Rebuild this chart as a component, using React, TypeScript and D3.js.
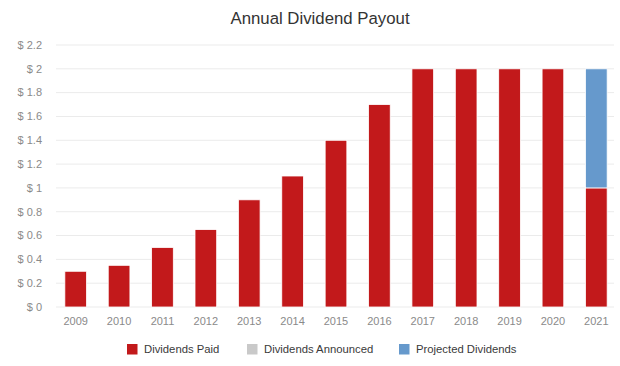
import { useEffect, useRef } from "react";
import * as d3 from "d3";

const years = ["2009", "2010", "2011", "2012", "2013", "2014", "2015", "2016", "2017", "2018", "2019", "2020", "2021"];
const paid = [0.3, 0.35, 0.5, 0.65, 0.9, 1.1, 1.4, 1.7, 2.0, 2.0, 2.0, 2.0, 1.0];
const announced = [0, 0, 0, 0, 0, 0, 0, 0, 0, 0, 0, 0, 0];
const projected = [0, 0, 0, 0, 0, 0, 0, 0, 0, 0, 0, 0, 1.0];
const yTicks = [0, 0.2, 0.4, 0.6, 0.8, 1, 1.2, 1.4, 1.6, 1.8, 2, 2.2];
const seriesNames = ["Dividends Paid", "Dividends Announced", "Projected Dividends"];
const colors = ["#C2191B", "#C9C9C9", "#6699CC"];

function App() {
  const ref = useRef<SVGSVGElement>(null);

  useEffect(() => {
    if (!ref.current) return;
    const svg = d3.select(ref.current);
    svg.selectAll("*").remove();

    const font = "'Liberation Sans', Arial, Helvetica, sans-serif";
    const left = 54;
    const right = 618;
    const top = 45;
    const bottom = 307;

    const x = d3.scaleBand().domain(years).range([left, right]).paddingInner(0.5).paddingOuter(0.25);
    const y = d3.scaleLinear().domain([0, 2.2]).range([bottom, top]);

    // 标题
    svg.append("text")
      .attr("x", 320)
      .attr("y", 24)
      .attr("text-anchor", "middle")
      .style("font-family", font)
      .style("font-size", "16.8px")
      .style("fill", "#333")
      .text("Annual Dividend Payout");

    // 网格线
    svg.append("g")
      .selectAll("line")
      .data(yTicks)
      .enter()
      .append("line")
      .attr("x1", 56)
      .attr("x2", 614)
      .attr("y1", (d) => y(d))
      .attr("y2", (d) => y(d))
      .style("stroke", "#EBEBEB")
      .style("stroke-width", 1);

    // y轴标签
    svg.append("g")
      .selectAll("text")
      .data(yTicks)
      .enter()
      .append("text")
      .attr("x", 42)
      .attr("y", (d) => y(d))
      .attr("dy", "0.35em")
      .attr("text-anchor", "end")
      .style("font-family", font)
      .style("font-size", "11px")
      .style("fill", "#8A8A8A")
      .text((d) => `$ ${d3.format("~g")(d)}`);

    // x轴标签
    svg.append("g")
      .selectAll("text")
      .data(years)
      .enter()
      .append("text")
      .attr("x", (d) => x(d)! + x.bandwidth() / 2)
      .attr("y", 325)
      .attr("text-anchor", "middle")
      .style("font-family", font)
      .style("font-size", "11px")
      .style("fill", "#8A8A8A")
      .text((d) => d);

    // 堆叠柱
    const rows = years.map((yr, i) => ({ year: yr, paid: paid[i], announced: announced[i], projected: projected[i] }));
    const stack = d3.stack<any>().keys(["paid", "announced", "projected"]);
    const layers = stack(rows);

    layers.forEach((layer, li) => {
      svg.append("g")
        .selectAll("rect")
        .data(layer.filter((d) => d[1] - d[0] > 0))
        .enter()
        .append("rect")
        .attr("x", (d) => x(d.data.year)!)
        .attr("width", x.bandwidth())
        .attr("y", (d) => y(d[1]))
        .attr("height", (d) => y(d[0]) - y(d[1]))
        .style("fill", colors[li])
        .style("stroke", "#fff")
        .style("stroke-width", 0.8);
    });

    // 图例
    const legendX = [127, 247, 399];
    const legend = svg.append("g")
      .selectAll("g")
      .data(seriesNames)
      .enter()
      .append("g")
      .attr("transform", (_d, i) => `translate(${legendX[i]}, 344)`);
    legend.append("rect")
      .attr("width", 10.5)
      .attr("height", 10.5)
      .style("fill", (_d, i) => colors[i]);
    legend.append("text")
      .attr("x", 17)
      .attr("y", 5.5)
      .attr("dy", "0.35em")
      .style("font-family", font)
      .style("font-size", "11.3px")
      .style("fill", "#3a3a3a")
      .text((d) => d);
  }, []);

  return (
    <svg
      ref={ref}
      width={620}
      height={366}
      style={{ position: "absolute", left: 0, top: 0, background: "#fff" }}
    />
  );
}

export default App;
